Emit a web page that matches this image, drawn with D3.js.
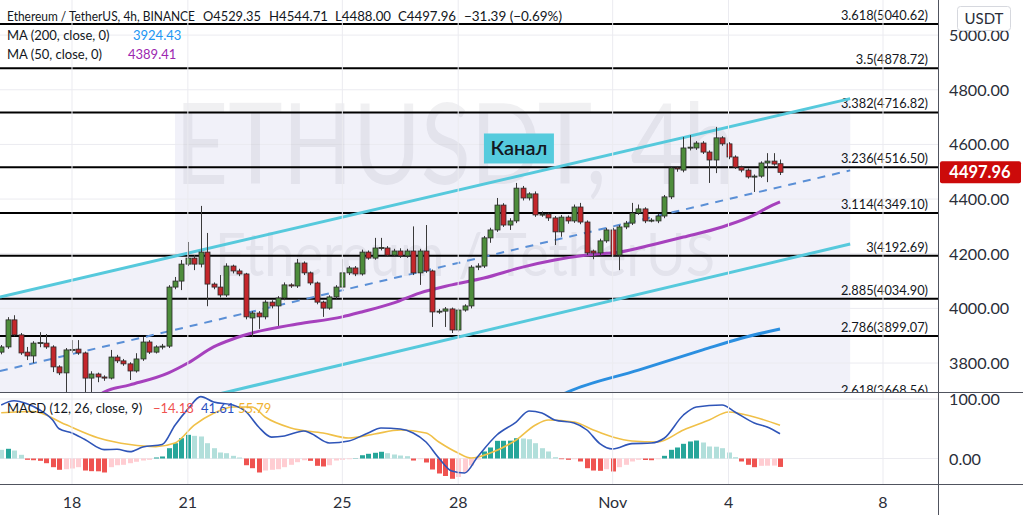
<!DOCTYPE html>
<html><head><meta charset="utf-8">
<script src="https://cdn.jsdelivr.net/npm/d3@7"></script>
<style>body{margin:0;background:#fff;overflow:hidden}svg{display:block;font-family:Lato,"Open Sans",sans-serif}</style>
</head><body><svg id="c" width="1023" height="515"></svg>
<script>
// ---------------- DATA ----------------
const firstBar = Date.UTC(2021, 9, 16, 4);   // Oct 16 2021 04:00, 4h bars
const barHours = 4;
const opens = [3840,3859,3958,3903,3840,3826,3873,3873,3859,3786,3764,3848,3851,3837,3745,3760,3749,3745,3822,3808,
 3797,3771,3815,3877,3840,3859,3862,4078,4100,4162,4184,4162,4206,4089,4078,4049,4155,4137,4126,3965,
 3983,3969,4023,4009,4038,4086,4082,4166,4130,4093,4023,4001,4042,4078,4130,4148,4126,4206,4184,4221,
 4221,4195,4210,4192,4210,4130,4210,4137,3987,3990,3998,3921,3994,4009,4151,4155,4258,4287,4378,4305,
 4320,4440,4404,4419,4342,4345,4331,4280,4334,4320,4371,4316,4210,4203,4247,4287,4195,4298,4312,4349,
 4364,4320,4320,4338,4408,4514,4506,4587,4587,4605,4572,4543,4624,4602,4554,4517,4506,4481,4484,4532,
 4539,4529.35];
const highs = [3866,3968,3975,3910,3859,3880,3913,3906,3865,3792,3855,3884,3884,3842,3770,3765,3755,3848,3830,3815,
 3803,3836,3895,3884,3865,3870,4085,4115,4177,4243,4195,4375,4276,4095,4122,4165,4160,4145,4130,3990,
 3990,4030,4030,4045,4095,4092,4181,4172,4135,4098,4028,4048,4085,4181,4155,4155,4215,4212,4258,4258,
 4228,4218,4220,4218,4300,4218,4305,4142,3998,4005,4003,4000,4015,4158,4165,4265,4295,4404,4385,4330,
 4459,4448,4425,4428,4355,4350,4338,4342,4340,4380,4386,4322,4215,4255,4295,4295,4305,4320,4386,4380,
 4370,4330,4345,4415,4520,4520,4627,4634,4612,4612,4578,4664,4630,4608,4560,4522,4512,4490,4538,4568,
 4568,4544.71];
const lows = [3832,3852,3898,3830,3811,3800,3858,3852,3767,3756,3680,3838,3830,3680,3680,3730,3735,3740,3800,3790,
 3738,3765,3808,3833,3835,3850,3855,4070,4067,4155,4140,4150,4008,4070,4040,4042,4128,4118,3960,3895,
 3925,3960,4000,3936,4030,4075,4075,4122,4085,4015,3969,3995,4035,4072,4122,4118,4120,4178,4178,4212,
 4188,4188,4185,4185,4122,4086,4130,3932,3980,3932,3910,3915,3988,4000,4140,4148,4240,4280,4298,4287,
 4312,4395,4395,4335,4335,4320,4232,4262,4310,4313,4308,4195,4180,4195,4240,4188,4140,4290,4305,4342,
 4312,4315,4312,4330,4400,4500,4498,4578,4580,4565,4459,4495,4595,4546,4510,4498,4475,4426,4478,4462,
 4522,4488];
const closes = [3859,3958,3903,3837,3826,3873,3875,3859,3786,3764,3848,3850,3837,3745,3760,3749,3745,3822,3808,3797,
 3771,3815,3877,3840,3859,3862,4078,4100,4162,4184,4162,4206,4089,4078,4049,4155,4137,4126,3969,3983,
 3969,4023,4009,4038,4086,4082,4166,4130,4093,4023,4001,4042,4078,4130,4148,4126,4206,4184,4221,4223,
 4195,4210,4192,4210,4130,4210,4137,3987,3990,3998,3921,3994,4009,4151,4155,4258,4287,4378,4305,4320,
 4440,4404,4419,4342,4345,4331,4280,4334,4320,4371,4316,4203,4203,4247,4287,4195,4298,4312,4349,4364,
 4320,4323,4338,4408,4514,4510,4587,4590,4605,4572,4543,4624,4602,4554,4517,4506,4481,4484,4532,4539,
 4528,4497.96];

// moving averages (bar index, value)
const ma50Idx = [14,16,20,26,29,33,36,39,46,53,56,61,65,70,75,81,86,91,96,101,106,112,117,119,121];
const ma50Val = [3660,3694,3720,3764,3800,3859,3888,3910,3943,3969,3987,4020,4056,4086,4111,4151,4177,4195,4206,4232,4261,4298,4342,4368,4389.41];
const ma200Idx = [85,88,99,109,115,121];
const ma200Val = [3660,3694,3774,3848,3891,3924.43];

// MACD histogram per bar
const macdHist = [14.6,16.3,13.4,6.2,-2.2,-2.9,-3.9,-7.9,-14.6,-19,-18,-16.8,-14.6,-20.2,-21.3,-21.5,-23.5,-14.6,-11.3,-10.6,
 -7.9,-5.5,-3.4,-2.2,1.7,3.4,17.3,25.7,34.1,39.8,38.1,37,25.7,17.3,10.1,8.9,4.5,1.7,-11.3,-16.3,
 -23.5,-20.2,-19,-18,-14.6,-10.6,-6.2,-2.9,-3.9,-12.3,-13.4,-11.3,-3.4,-2.2,-1.2,0.5,5.5,7.9,9.6,11.3,
 8.9,6.7,5,3.9,-3.4,-1.2,-6.7,-18.5,-25.2,-29.4,-34.1,-31.1,-23.5,-11.8,-1.7,11.8,18.5,29.7,29.8,30,
 34.1,33.6,32.4,25.7,17.3,11.8,2.2,-1.2,-2.2,-1.2,-5,-16.3,-20.2,-20.7,-18,-21.8,-14.6,-10.6,-5,-2.2,
 -2.5,-2.9,-1.2,4.5,14.6,18.5,24.7,28.6,30.2,26.9,20.2,19.8,17.3,10.1,2.2,-5,-10.6,-14.6,-12.3,-12.1,
 -11.9,-14.18];
const macdIdx = [0,2,4,6,8,9,11,13,16,18,20,22,25,27,29,31,33,36,38,40,42,44,47,48,51,54,57,59,62,64,66,68,70,72,74,77,80,82,84,86,89,91,93,95,98,101,103,106,108,112,114,117,119,121];
const macdVal = [90,97,92,81.5,64.7,50,43,32,15,15.5,11.5,19.3,23.5,56,83,104,95,90,79,53,36,37.8,46.2,42.9,26,29.4,42.9,51.3,49.6,42.9,27.7,0.8,-21,-24.4,2.5,39.5,61.3,79.8,76.5,64.7,59.7,47.9,25,16,25,26,34,73.1,86.6,90,78.2,59.7,53,41.61];
const sigIdx = [0,5,10,15,20,24,27,30,33,36,39,41,45,50,54,58,62,66,68,71,73,76,80,83,85,89,92,95,98,102,106,110,113,117,121];
const sigVal = [77,79,57,35,23.5,20,26,56,76,86.6,86.6,69.7,51.3,42.9,34.5,41.2,47.9,42.9,27.7,9.2,0.8,9.2,31.1,56.3,64.7,61.3,47.9,36.1,29.4,27.7,47.9,64.7,78.2,69.7,55.79];

// drawings
const fibLevels = [3.618,3.5,3.382,3.236,3.114,3,2.885,2.786,2.618];
const fibPrices = [5040.62,4878.72,4716.82,4516.50,4349.10,4192.69,4034.90,3899.07,3668.56];
const channelIdx = [-0.2, 131.9];
const channelUpper = [4041.7, 4767.6];
const channelMid = [3770.5, 4505.0];
const channelLower = [3496.5, 4235.6];
const boxIdx = [27, 131.9];          // shaded background range
const boxPrices = [4716.82, 3668.56];

// axes
const priceTicks = [3800,4000,4200,4400,4600,4800,5000];
const macdTicks = [0,100];
const dateTicks = [Date.UTC(2021,9,18),Date.UTC(2021,9,21),Date.UTC(2021,9,25),Date.UTC(2021,9,28),Date.UTC(2021,10,1),Date.UTC(2021,10,4),Date.UTC(2021,10,8)];
const dateLabels = ["18","21","25","28","Nov","4","8"];

// ---------------- CHART ----------------
const svg = d3.select("#c");
const plotRight = 938, mainBottom = 392, macdBottom = 484;
const x = d3.scaleUtc().domain([Date.UTC(2021,9,18), Date.UTC(2021,10,8)]).range([72, 883]);
const y = d3.scaleLinear().domain([3694.1, 5128.4]).range([mainBottom, 0]);
const ym = d3.scaleLinear().domain([0, 100]).range([458.5, 399]);
const tOf = i => new Date(firstBar + i * barHours * 3600e3);
const xi = i => x(tOf(i));

const defs = svg.append("defs");
defs.append("clipPath").attr("id","clipMain").append("rect").attr("x",0).attr("y",0).attr("width",plotRight).attr("height",mainBottom);
defs.append("clipPath").attr("id","clipMacd").append("rect").attr("x",0).attr("y",mainBottom).attr("width",plotRight).attr("height",macdBottom-mainBottom);

svg.append("rect").attr("width",1023).attr("height",515).attr("fill","#fff");

const main = svg.append("g").attr("clip-path","url(#clipMain)");
const macdG = svg.append("g").attr("clip-path","url(#clipMacd)");

const fillCol = "#f1f1f9";
// channel fill
const chPoly = [[xi(channelIdx[0]), y(channelUpper[0])],[xi(channelIdx[1]), y(channelUpper[1])],
  [xi(channelIdx[1]), y(channelLower[1])],[xi(channelIdx[0]), y(channelLower[0])]];
main.append("path").attr("d", d3.line()(chPoly) + "Z").attr("fill", fillCol);
// background box
main.append("rect").attr("x", xi(boxIdx[0])).attr("y", y(boxPrices[0]))
  .attr("width", xi(boxIdx[1]) - xi(boxIdx[0])).attr("height", y(boxPrices[1]) - y(boxPrices[0]))
  .attr("fill", fillCol);

// grid
const gridCol = "#ebebf0";
main.selectAll(".hg").data(priceTicks).join("line")
  .attr("x1",0).attr("x2",plotRight).attr("y1",d=>y(d)).attr("y2",d=>y(d)).attr("stroke",gridCol);
macdG.selectAll(".mg").data(macdTicks).join("line")
  .attr("x1",0).attr("x2",plotRight).attr("y1",d=>ym(d)).attr("y2",d=>ym(d)).attr("stroke",gridCol);
svg.append("g").selectAll("line").data(dateTicks).join("line")
  .attr("x1",d=>x(d)).attr("x2",d=>x(d)).attr("y1",0).attr("y2",macdBottom).attr("stroke",gridCol);

// watermark
main.append("text").attr("x",455).attr("y",184).attr("text-anchor","middle")
  .attr("font-size",112).attr("textLength",560).attr("lengthAdjust","spacingAndGlyphs")
  .attr("fill","rgba(60,60,80,0.075)").text("ETHUSDT, 4h");
main.append("text").attr("x",465).attr("y",276).attr("text-anchor","middle")
  .attr("font-size",60).attr("textLength",500).attr("lengthAdjust","spacingAndGlyphs")
  .attr("fill","rgba(60,60,80,0.075)").text("Ethereum / TetherUS");

// fib lines
main.selectAll(".fib").data(fibPrices).join("line")
  .attr("x1",0).attr("x2",plotRight).attr("y1",d=>y(d)).attr("y2",d=>y(d))
  .attr("stroke","#000").attr("stroke-width",2);
main.selectAll(".fibl").data(fibPrices).join("text")
  .attr("x",928).attr("y",d=>y(d)-4).attr("text-anchor","end")
  .attr("font-size",12.8).attr("fill","#131722")
  .text((d,i)=>`${fibLevels[i]}(${d.toFixed(2)})`);

// MAs
const maLine = d3.line().x(d=>xi(d[0])).y(d=>y(d[1])).curve(d3.curveMonotoneX);
main.append("path").attr("d", maLine(ma200Idx.map((v,i)=>[v, ma200Val[i]])))
  .attr("fill","none").attr("stroke","#2b8fe0").attr("stroke-width",3);
main.append("path").attr("d", maLine(ma50Idx.map((v,i)=>[v, ma50Val[i]])))
  .attr("fill","none").attr("stroke","#a641bd").attr("stroke-width",3);

// channel lines
const chLine = d3.line().x(d=>xi(d[0])).y(d=>y(d[1]));
main.append("path").attr("d", chLine(channelIdx.map((v,i)=>[v,channelUpper[i]])))
  .attr("stroke","#56c9dc").attr("stroke-width",3).attr("fill","none");
main.append("path").attr("d", chLine(channelIdx.map((v,i)=>[v,channelLower[i]])))
  .attr("stroke","#56c9dc").attr("stroke-width",3).attr("fill","none");
main.append("path").attr("d", chLine(channelIdx.map((v,i)=>[v,channelMid[i]])))
  .attr("stroke","#5a8fd6").attr("stroke-width",2).attr("stroke-dasharray","8,7").attr("fill","none");

// candles
const bars = opens.map((o,i)=>({i, o, h:highs[i], l:lows[i], c:closes[i]}));
const cg = main.append("g");
cg.selectAll(".wick").data(bars).join("line")
  .attr("x1",d=>Math.round(xi(d.i))+0.5).attr("x2",d=>Math.round(xi(d.i))+0.5)
  .attr("y1",d=>y(d.h)).attr("y2",d=>y(d.l)).attr("stroke","#3a3a3a").attr("stroke-width",1);
cg.selectAll(".body").data(bars).join("rect")
  .attr("x",d=>Math.round(xi(d.i))-2).attr("width",5)
  .attr("y",d=>y(Math.max(d.o,d.c))).attr("height",d=>Math.max(1, Math.abs(y(d.o)-y(d.c))))
  .attr("fill",d=>d.c>=d.o?"#4e8d3c":"#c4262b").attr("stroke","#2a2a2a").attr("stroke-width",0.8);

// Канал label
const kx = xi(75), ky = y(4640);
main.append("rect").attr("x",kx).attr("y",ky).attr("width",70).attr("height",30).attr("fill","#55cbdd");
main.append("text").attr("x",kx+35).attr("y",ky+22).attr("text-anchor","middle")
  .attr("font-size",20).attr("font-weight",600).attr("fill","#131722").text("Канал");

// MACD
const histColor = (v,i) => {
  const p = i>0 ? macdHist[i-1] : v+1;
  if (v >= 0) return v >= p ? "#26a69a" : "#b2dfdb";
  return v <= p ? "#ef5350" : "#ffcdd2";
};
macdG.selectAll(".hb").data(macdHist).join("rect")
  .attr("x",(d,i)=>Math.round(xi(i))-2).attr("width",5)
  .attr("y",d=>Math.min(ym(d),ym(0))).attr("height",d=>Math.abs(ym(d)-ym(0)))
  .attr("fill",(d,i)=>histColor(d,i));
const mLine = d3.line().x(d=>xi(d[0])).y(d=>ym(d[1])).curve(d3.curveMonotoneX);
macdG.append("path").attr("d", mLine(sigIdx.map((v,i)=>[v,sigVal[i]])))
  .attr("fill","none").attr("stroke","#f0c048").attr("stroke-width",1.6);
macdG.append("path").attr("d", mLine(macdIdx.map((v,i)=>[v,macdVal[i]])))
  .attr("fill","none").attr("stroke","#2f55b8").attr("stroke-width",1.6);

// separators
svg.append("line").attr("x1",0).attr("x2",1023).attr("y1",392.5).attr("y2",392.5).attr("stroke","#50535e");
svg.append("line").attr("x1",0).attr("x2",1023).attr("y1",484.5).attr("y2",484.5).attr("stroke","#50535e");
svg.append("line").attr("x1",938.5).attr("x2",938.5).attr("y1",0).attr("y2",515).attr("stroke","#50535e");

// price axis
const axCol = "#2a2e39";
svg.selectAll(".pl").data(priceTicks).join("text")
  .attr("x",949).attr("y",d=>y(d)+6).attr("font-size",16.2).attr("fill",axCol).text(d=>d.toFixed(2));
svg.selectAll(".ml").data(macdTicks).join("text")
  .attr("x",949).attr("y",d=>ym(d)+6).attr("font-size",16.2).attr("fill",axCol).text(d=>d.toFixed(2));
svg.selectAll(".dl").data(dateTicks).join("text")
  .attr("x",d=>x(d)).attr("y",508).attr("text-anchor","middle").attr("font-size",16).attr("fill",axCol)
  .text((d,i)=>dateLabels[i]);

// USDT box
svg.append("rect").attr("x",957.5).attr("y",6.5).attr("width",53).attr("height",24).attr("rx",3)
  .attr("fill","#fff").attr("stroke","#d6d8de");
svg.append("text").attr("x",984).attr("y",24).attr("text-anchor","middle").attr("font-size",15).attr("fill",axCol).text("USDT");

// last price tag
const lastC = closes[closes.length-1];
svg.append("rect").attr("x",940).attr("y",y(lastC)-11).attr("width",81).attr("height",22).attr("rx",2).attr("fill","#cc0a0a");
svg.append("text").attr("x",980).attr("y",y(lastC)+6).attr("text-anchor","middle").attr("font-size",16.5)
  .attr("font-weight",700).attr("fill","#fff").text(lastC.toFixed(2));

// legends
const lg = svg.append("g").attr("font-size",13);
const leg1 = [["Ethereum / TetherUS, 4h, BINANCE",7,188],["O4529.35",203,58],["H4544.71",269,59],["L4488.00",335,56],["C4497.96",398,58],["−31.39 (−0.69%)",464,98]];
lg.selectAll(".l1").data(leg1).join("text").attr("x",d=>d[1]).attr("y",21).attr("fill","#131722")
  .attr("textLength",d=>d[2]).attr("lengthAdjust","spacingAndGlyphs").text(d=>d[0]);
lg.append("text").attr("x",7).attr("y",40).attr("fill","#131722").text("MA (200, close, 0)");
lg.append("text").attr("x",133).attr("y",40).attr("fill","#2196f3").text(ma200Val[ma200Val.length-1].toFixed(2));
lg.append("text").attr("x",7).attr("y",59).attr("fill","#131722").text("MA (50, close, 0)");
lg.append("text").attr("x",128).attr("y",59).attr("fill","#9c27b0").text(ma50Val[ma50Val.length-1].toFixed(2));
const leg3 = [["MACD (12, 26, close, 9)",7,"#131722"],["−14.18",153,"#ef5350"],["41.61",201,"#2b4fc0"],["55.79",238,"#f0b232"]];
lg.selectAll(".l3").data(leg3).join("text").attr("x",d=>d[1]).attr("y",413).attr("fill",d=>d[2]).text(d=>d[0]);
</script></body></html>
